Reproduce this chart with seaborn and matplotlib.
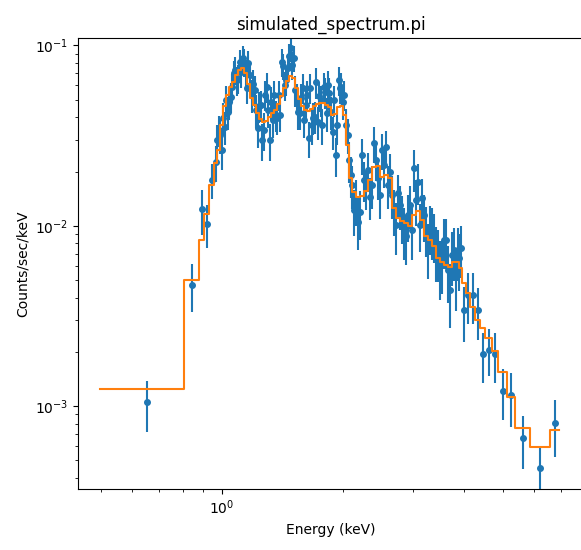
import numpy as np
import matplotlib
matplotlib.use('Agg')
import matplotlib.pyplot as plt
import seaborn as sns

# 能道边界 (keV)、模型和数据 (counts/sec/keV)
energy_edges = [0.499, 0.807, 0.879, 0.905, 0.931, 0.958,
                0.975, 0.992, 1.009, 1.026, 1.044, 1.062, 1.081, 1.099, 1.118, 1.138,
                1.157, 1.177, 1.198, 1.219, 1.240, 1.261, 1.283, 1.305, 1.328, 1.351,
                1.374, 1.398, 1.422, 1.447, 1.472, 1.498, 1.523, 1.550, 1.577, 1.604,
                1.632, 1.660, 1.689, 1.718, 1.748, 1.778, 1.809, 1.840, 1.872, 1.905,
                1.938, 1.971, 2.005, 2.040, 2.076, 2.112,
                2.160, 2.211, 2.262, 2.314, 2.368, 2.423, 2.479, 2.536, 2.595, 2.655,
                2.717, 2.780, 2.844, 2.910, 2.978, 3.047, 3.118, 3.190, 3.264, 3.339,
                3.417, 3.496, 3.577, 3.660, 3.745, 3.832, 3.898, 3.966,
                4.057, 4.152, 4.272, 4.396, 4.523, 4.709, 4.874, 5.132, 5.373, 5.852,
                6.563, 6.910]

model_rate = [0.00125, 0.00502, 0.00829, 0.01165, 0.0169,
              0.0223, 0.0264, 0.0363, 0.0462, 0.0532, 0.0589, 0.0628, 0.0687, 0.0731, 0.0750,
              0.0704, 0.0612, 0.0512, 0.0468, 0.0423, 0.0392, 0.0377, 0.0382, 0.0402, 0.0423,
              0.0439, 0.0474, 0.0525, 0.0581, 0.0636, 0.0678, 0.0661, 0.0581, 0.0506, 0.0462,
              0.0439, 0.0434, 0.0445, 0.0462, 0.0474, 0.0480, 0.0480, 0.0468, 0.0456, 0.0412,
              0.0417, 0.0456, 0.0462, 0.0412, 0.0281, 0.0185,
              0.01543, 0.0145, 0.01466, 0.01563, 0.01799, 0.02123, 0.0215, 0.01868, 0.0192, 0.0185,
              0.01258, 0.01107, 0.01066, 0.0104, 0.0100, 0.0115, 0.01211, 0.0108, 0.0088, 0.00836,
              0.00775, 0.00665, 0.00632, 0.00608, 0.00593, 0.00632, 0.00632, 0.00585,
              0.00483, 0.00425, 0.00356, 0.00301, 0.00272, 0.00240, 0.00201, 0.00155, 0.00113,
              0.00076, 0.000597, 0.00074]

# 每个能道中心的数据点
data_rate = [0.00105, 0.00471, 0.01238, 0.01026, 0.0180,
             0.0226, 0.0340, 0.0264, 0.0355, 0.0428, 0.0521, 0.0701, 0.0644, 0.0813, 0.0849,
             0.0701, 0.0797, 0.0532, 0.0567, 0.0349, 0.0468, 0.0340, 0.0591, 0.0299, 0.0387,
             0.0412, 0.0532, 0.0810, 0.0604, 0.0747, 0.0969, 0.0852, 0.0512, 0.0421, 0.0581,
             0.0468, 0.0307, 0.0362, 0.0403, 0.0378, 0.0499, 0.0591, 0.0423, 0.0546, 0.0333,
             0.0247, 0.0644, 0.0591, 0.0532, 0.0319, 0.0192,
             0.0123, 0.01056, 0.0247, 0.01623, 0.01453, 0.0287, 0.0184, 0.0264, 0.0275, 0.0200,
             0.0123, 0.01518, 0.01126, 0.00873, 0.01307, 0.0209, 0.01759, 0.01429, 0.00975, 0.00991,
             0.00892, 0.00718, 0.00621, 0.00836, 0.00442, 0.00736, 0.00736, 0.00752,
             0.00343, 0.00415, 0.00415, 0.00343, 0.00195, 0.00206, 0.00195, 0.00122, 0.00115,
             0.000667, 0.000451, 0.000803]

data_err = [0.00033, 0.0014, 0.0035, 0.0027, 0.0040,
            0.0050, 0.0065, 0.0060, 0.0075, 0.0090, 0.0100, 0.0120, 0.0120, 0.0130, 0.0140,
            0.0130, 0.0130, 0.0110, 0.0110, 0.0080, 0.0090, 0.0080, 0.0110, 0.0070, 0.0080,
            0.0080, 0.0100, 0.0140, 0.0110, 0.0130, 0.0160, 0.0140, 0.0100, 0.0080, 0.0110,
            0.0090, 0.0070, 0.0080, 0.0080, 0.0080, 0.0100, 0.0110, 0.0090, 0.0110, 0.0070,
            0.0060, 0.0120, 0.0110, 0.0100, 0.0070, 0.0050,
            0.0035, 0.0032, 0.0055, 0.0040, 0.0038, 0.0065, 0.0045, 0.0060, 0.0060, 0.0050,
            0.0035, 0.0040, 0.0033, 0.0027, 0.0035, 0.0055, 0.0045, 0.0040, 0.0030, 0.0030,
            0.0027, 0.0023, 0.0020, 0.0026, 0.0017, 0.0024, 0.0024, 0.0024,
            0.00115, 0.0013, 0.0013, 0.0011, 0.0006, 0.0006, 0.0006, 0.00038, 0.00038,
            0.00022, 0.00015, 0.00028]

# 1-4 keV 之间更密的数据点
extra_energy = [0.975, 0.992, 1.009, 1.026, 1.044, 1.062, 1.081, 1.099, 1.118, 1.138,
                1.157, 1.177, 1.198, 1.219, 1.240, 1.261, 1.283, 1.305, 1.328, 1.351,
                1.374, 1.398, 1.422, 1.447, 1.472, 1.498, 1.523, 1.550, 1.577, 1.604,
                1.632, 1.660, 1.689, 1.718, 1.748, 1.778, 1.809, 1.840, 1.872, 1.905,
                1.938, 1.971, 2.005, 2.040, 2.076,
                2.112, 2.160, 2.211, 2.262, 2.314, 2.368, 2.423, 2.479, 2.536, 2.595,
                2.655, 2.717, 2.780, 2.844, 2.910, 2.978, 3.047, 3.118, 3.190, 3.264,
                3.339, 3.417, 3.496, 3.577, 3.660, 3.745, 3.832, 3.898]

extra_rate = [0.0299, 0.0319, 0.0397, 0.0499, 0.0486, 0.0589, 0.0731, 0.0661, 0.0713, 0.0810,
              0.0581, 0.0687, 0.0612, 0.0439, 0.0462, 0.0299, 0.0532, 0.0439, 0.0486, 0.0532,
              0.0397, 0.0412, 0.0770, 0.0644, 0.0874, 0.0780, 0.0567, 0.0428, 0.0512, 0.0387,
              0.0532, 0.0581, 0.0397, 0.0628, 0.0525, 0.0362, 0.0552, 0.0604, 0.0428, 0.0499,
              0.0362, 0.0581, 0.0486, 0.0362, 0.0232,
              0.0169, 0.01393, 0.01196, 0.01799, 0.0204, 0.0169, 0.0232, 0.01485, 0.0218, 0.0169,
              0.01485, 0.01013, 0.01307, 0.0095, 0.0115, 0.0095, 0.01393, 0.01013, 0.0115, 0.00765,
              0.0095, 0.00736, 0.00608, 0.00836, 0.00571, 0.00691, 0.00535, 0.00665]

extra_err = [0.0065, 0.0070, 0.0080, 0.0100, 0.0100, 0.0110, 0.0130, 0.0120, 0.0130, 0.0140,
             0.0110, 0.0130, 0.0120, 0.0090, 0.0090, 0.0070, 0.0100, 0.0090, 0.0100, 0.0100,
             0.0080, 0.0080, 0.0130, 0.0120, 0.0150, 0.0140, 0.0110, 0.0090, 0.0100, 0.0080,
             0.0100, 0.0110, 0.0080, 0.0120, 0.0100, 0.0080, 0.0110, 0.0120, 0.0090, 0.0100,
             0.0080, 0.0110, 0.0100, 0.0080, 0.0060,
             0.0045, 0.0040, 0.0036, 0.0045, 0.0050, 0.0045, 0.0055, 0.0040, 0.0055, 0.0045,
             0.0040, 0.0032, 0.0036, 0.0030, 0.0034, 0.0030, 0.0040, 0.0030, 0.0034, 0.0026,
             0.0030, 0.0025, 0.0022, 0.0026, 0.0020, 0.0023, 0.0020, 0.0023]

edges = np.array(energy_edges)
centers = 0.5 * (edges[:-1] + edges[1:])
x_data = np.concatenate([centers, extra_energy])
y_data = np.concatenate([data_rate, extra_rate])
y_err = np.concatenate([data_err, extra_err])
order = np.argsort(x_data)

fig = plt.figure(figsize=(5.81, 5.5), dpi=100)
# 右边框在图外 (原图被裁掉)
ax = fig.add_axes([0.1343, 0.1109, 0.8692, 0.82])

# 数据点 + 误差棒
ax.errorbar(x_data[order], y_data[order], yerr=y_err[order], fmt='o', ms=4,
            color='tab:blue', elinewidth=1.5, zorder=2)

# 模型阶梯线
sns.lineplot(x=energy_edges, y=model_rate + [model_rate[-1]], drawstyle='steps-post',
             color='tab:orange', linewidth=1.5, sort=False, ax=ax, zorder=3)

ax.set_xscale('log')
ax.set_yscale('log')
ax.set_xlim(0.4396, 7.93)
ax.set_ylim(3.47e-4, 0.110)
ax.set_xlabel('Energy (keV)')
ax.set_ylabel('Counts/sec/keV')
ax.set_title('simulated_spectrum.pi')

plt.savefig('out.png', dpi=100)
